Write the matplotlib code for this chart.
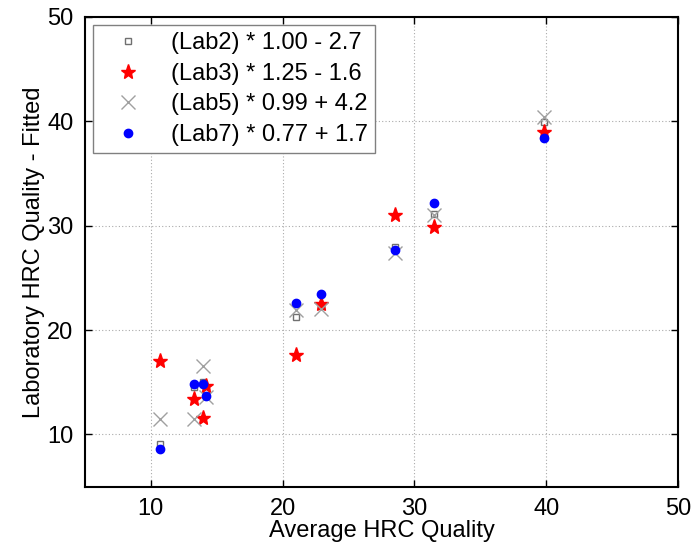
import matplotlib
matplotlib.use("Agg")
import matplotlib.pyplot as plt

# average HRC quality per sample
avg_hrc = [10.7, 13.3, 14.0, 14.2, 21.0, 22.9, 28.5, 31.5, 39.8]

# fitted lab values
lab2 = [9.1, 14.5, 15.0, 14.3, 21.3, 22.3, 28.0, 31.1, 39.9]
lab3 = [17.0, 13.4, 11.6, 14.6, 17.6, 22.5, 31.0, 29.9, 39.0]
lab5 = [11.5, 11.5, 16.6, 13.6, 21.9, 22.0, 27.4, 31.0, 40.4]
lab7 = [8.6, 14.8, 14.8, 13.7, 22.6, 23.5, 27.7, 32.2, 38.4]

labels = [
    "(Lab2) * 1.00 - 2.7",
    "(Lab3) * 1.25 - 1.6",
    "(Lab5) * 0.99 + 4.2",
    "(Lab7) * 0.77 + 1.7",
]
ticks = [10, 20, 30, 40, 50]

plt.rcParams["font.family"] = ["Liberation Sans", "DejaVu Sans"]

fig = plt.figure(figsize=(7.0, 5.48), dpi=100)
ax = fig.add_axes([0.121, 0.112, 0.848, 0.857])

ax.plot(avg_hrc, lab2, ls="none", marker="s", ms=5, mfc="none", mec="#707070", mew=1.0, label=labels[0])
ax.plot(avg_hrc, lab3, ls="none", marker="*", ms=11, color="red", mec="red", label=labels[1])
ax.plot(avg_hrc, lab5, ls="none", marker="x", ms=10, color="#a0a0a0", mew=1.0, label=labels[2])
ax.plot(avg_hrc, lab7, ls="none", marker="o", ms=6, color="blue", mec="blue", label=labels[3])

ax.set_xlim(5, 50)
ax.set_ylim(5, 50)
ax.set_xticks(ticks)
ax.set_yticks(ticks)
ax.tick_params(direction="in", length=5, width=1, labelsize=17, top=True, right=True, pad=8)
ax.grid(True, ls=(0, (1, 2)), color="#aaaaaa", lw=0.8)
for s in ax.spines.values():
    s.set_linewidth(1.5)

ax.set_xlabel("Average HRC Quality", fontsize=17, labelpad=0)
ax.set_ylabel("Laboratory HRC Quality - Fitted", fontsize=17, labelpad=2)

leg = ax.legend(loc="upper left", fontsize=17, frameon=True, fancybox=False,
                borderaxespad=0.35, handletextpad=0.6, handlelength=2.4,
                labelspacing=0.36, borderpad=0.3)
leg.get_frame().set_edgecolor("#808080")
leg.get_frame().set_linewidth(1.0)
leg.get_frame().set_alpha(1.0)

fig.savefig("out.png", dpi=100)
